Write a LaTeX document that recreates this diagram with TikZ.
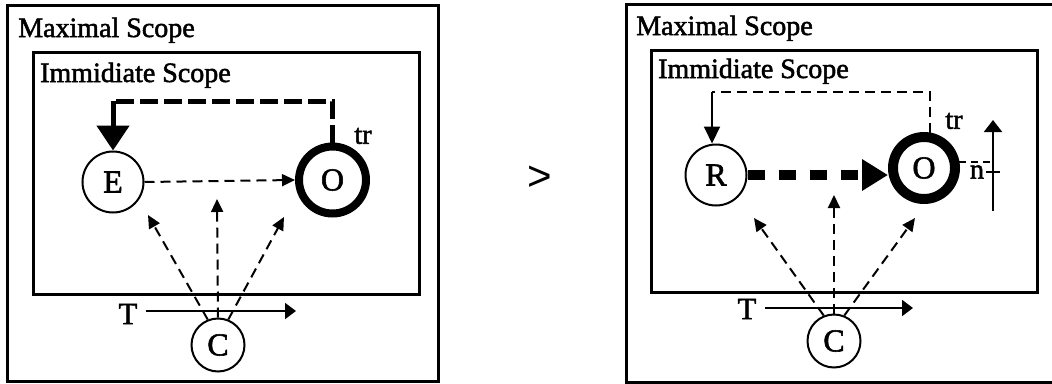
\documentclass[tikz,border=0pt]{standalone}
\usepackage{fontspec}
\setmainfont{Liberation Serif}[FakeBold=1.8]
\newfontfamily\gtfont{Liberation Sans}
\usetikzlibrary{arrows.meta, positioning, calc}

\tikzset{
  scopebox/.style={draw, line width=3pt},
  scopelabel/.style={anchor=base west, inner sep=0pt, font=\fontsize{28}{32}\selectfont},
  entity/.style={draw, circle, line width=2pt, inner sep=0pt, minimum size=61pt, font=\fontsize{32}{36}\selectfont},
  target/.style={entity, line width=8pt, minimum size=67pt},
  lbl/.style={inner sep=0pt, font=\fontsize{28}{32}\selectfont},
  thindash/.style={line width=2pt, dash pattern=on 10pt off 6pt},
  smalltip/.style={-{Triangle[length=13pt, width=12pt]}},
}

\begin{document}
\begin{tikzpicture}[x=1pt, y=-1pt]
  \useasboundingbox (0,0) rectangle (1052,383);

  % left panel
  \draw[scopebox] (7,5) rectangle (438,381);
  \draw[scopebox] (33,52) rectangle (419,294);
  \node[scopelabel] (maxL) at (18,37) {Maximal Scope};
  \node[scopelabel] (immL) at (40,82) {Immidiate Scope};

  \node[entity] (E) at (113,182) {E};
  \node[target] (O1) at (332.5,180) {O};
  \node[entity, minimum size=53pt] (C1) at (218,345) {C};
  \node[lbl] (tr1) at (363,136) {tr};
  \node[lbl, font=\fontsize{31}{34}\selectfont] (T1) at (128,314) {T};

  \coordinate (fbL) at (113,101);
  \coordinate (t1end) at (296,311);
  \coordinate (c1a) at (148,215);
  \coordinate (c1b) at (217,199);
  \coordinate (c1c) at (284,217);

  \draw[line width=5pt, dash pattern=on 18pt off 6pt] (O1.north) |- (fbL);
  \draw[line width=5pt, -{Triangle[length=25pt, width=32pt]}] (fbL) -- (E.north);
  \draw[thindash, smalltip] (E.east) -- (O1.west);
  \draw[line width=2pt, -{Triangle[length=11pt, width=16pt]}] (T1.east) ++(8,-3) -- (t1end);
  \draw[thindash, smalltip] (C1.112) -- (c1a);
  \draw[thindash, smalltip] (C1.north) -- (c1b);
  \draw[thindash, smalltip] (C1.68) -- (c1c);

  \node[inner sep=0pt, font=\gtfont\fontsize{42}{46}\selectfont] (gt) at (540,178) {>};

  % right panel
  \draw[scopebox] (626,4) rectangle (1058,382);
  \draw[scopebox] (651,50) rectangle (1037,292);
  \node[scopelabel] (maxR) at (636,35) {Maximal Scope};
  \node[scopelabel] (immR) at (658,78) {Immidiate Scope};

  \node[entity] (R) at (716,175) {R};
  \node[target, line width=10pt, minimum size=62pt] (O2) at (924,168) {O};
  \node[entity, minimum size=53pt] (C2) at (834,341) {C};
  \node[lbl] (tr2) at (954,121) {tr};
  \node[lbl, font=\fontsize{31}{34}\selectfont] (T2) at (747,309) {T};
  \node[lbl] (n) at (977,172) {n};

  \coordinate (fbR) at (712,92);
  \coordinate (t2end) at (913,308);
  \coordinate (nbot) at (993,211);
  \coordinate (ntop) at (993,120);
  \coordinate (c2a) at (754,218);
  \coordinate (c2b) at (834,195);
  \coordinate (c2c) at (915,218);

  \draw[thindash] (O2.80) |- (fbR);
  \draw[line width=2pt, -{Triangle[length=17pt, width=16pt]}] (fbR) -- (fbR |- R.north);
  \draw[line width=10pt, dash pattern=on 17pt off 14pt, -{Triangle[length=26pt, width=30pt]}] (R.east) -- (O2.west |- R.east);
  \draw[line width=2pt, -{Triangle[length=11pt, width=16pt]}] (T2.east) ++(8,-1) -- (t2end);
  \draw[thindash, smalltip] (C2.112) -- (c2a);
  \draw[thindash, smalltip] (C2.north) -- (c2b);
  \draw[thindash, smalltip] (C2.68) -- (c2c);

  \draw[line width=2pt, -{Triangle[length=12pt, width=18pt]}] (nbot) -- (ntop);
  \draw[line width=2pt, dash pattern=on 7pt off 5pt] (O2.10) -- (O2.10 -| nbot);
  \draw[line width=2pt] ($(n.east)+(2,0)$) -- ++(14,0);
\end{tikzpicture}
\end{document}
